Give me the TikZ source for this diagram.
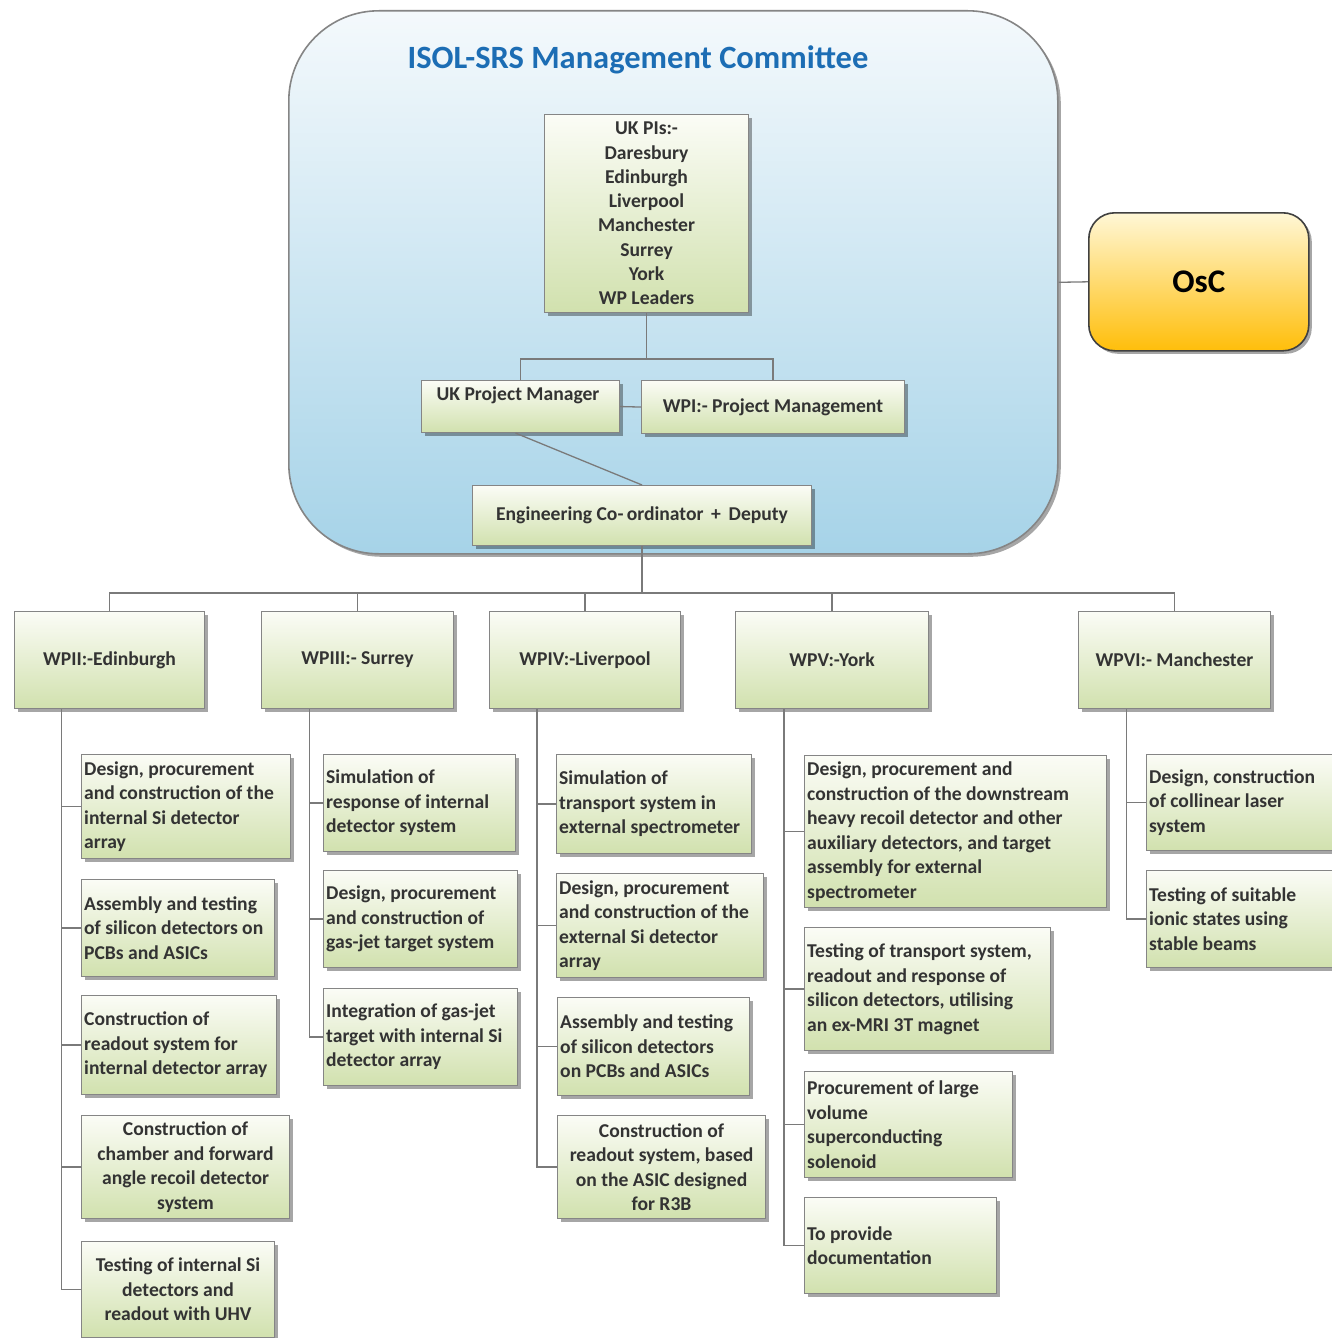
\documentclass[tikz,border=0pt]{standalone}
\usepackage{fontspec}
\setmainfont{Carlito}
\usetikzlibrary{shadows,calc}
\definecolor{gtop}{HTML}{FBFCF6}
\definecolor{gbot}{HTML}{D1E1AE}
\definecolor{btop}{HTML}{F4F9FC}
\definecolor{bbot}{HTML}{A6D3E8}
\definecolor{ytop}{HTML}{FFF7D6}
\definecolor{ybot}{HTML}{FFBE0A}
\definecolor{ttl}{HTML}{1C6DB4}
\definecolor{txt}{HTML}{333333}
\definecolor{lnc}{HTML}{7A7A7A}
\definecolor{bordc}{HTML}{858585}
\newcommand\leafbox[7]{%
  \node[leaf, minimum width={(#4)-(#2)}, minimum height={(#5)-(#3)}, anchor=north west] (#1) at (#2,#3) {};
  \ifx#7c\node[lt, align=center] at (#1.center) {#6};\else\node[lt, anchor=west] at (#1.west) {#6};\fi}
\begin{document}
\begin{tikzpicture}[x=1pt,y=-1pt,
  ln/.style={draw=lnc, line width=1.3pt},
  shad/.style={drop shadow={shadow xshift=3pt, shadow yshift=-3pt, fill=black, opacity=0.35}},
  leaf/.style={draw=bordc, line width=1.1pt, top color=gtop, bottom color=gbot, shad, inner sep=0pt},
  lt/.style={font=\fontsize{19.6}{24.5}\selectfont\bfseries, text=txt, align=left, inner xsep=3pt, inner ysep=0pt},
]
\useasboundingbox (0,0) rectangle (1332,1338);
\clip (0,0) rectangle (1332,1338);
\fill[white] (0,0) rectangle (1332,1338);

% management committee
\node[draw=bordc, line width=1.6pt, rounded corners=90pt, top color=btop, bottom color=bbot,
  minimum width=769pt, minimum height=543pt, anchor=north west, shad] (mc) at (288,10) {};
\node[font=\fontsize{32.5}{36}\selectfont\bfseries, text=ttl] (title) at (638,60) {ISOL-SRS Management Committee};

\node[leaf, lt, align=center, minimum width=204pt, minimum height=198pt, anchor=north west,
  font=\fontsize{19.6}{24.3}\selectfont\bfseries] (pis) at (544,114)
  {UK PIs:-\\Daresbury\\Edinburgh\\Liverpool\\Manchester\\Surrey\\York\\WP Leaders};
\node[leaf, minimum width=198pt, minimum height=52pt, anchor=north west] (pm) at (421,380) {};
\node[lt] (pmt) at (518,395) {UK Project Manager};
\node[leaf, lt, align=center, minimum width=263pt, minimum height=53pt, anchor=north west] (wp1) at (641,380) {WPI:- Project Management};
\node[leaf, lt, align=center, minimum width=339pt, minimum height=60pt, anchor=north west] (eng) at (472,485) {Engineering Co-\,ordinator \,+\, Deputy};

% OsC
\node[draw=black!75, line width=1.6pt, rounded corners=26pt, top color=ytop, bottom color=ybot,
  minimum width=220pt, minimum height=138pt, anchor=north west, shad,
  font=\fontsize{33}{38}\selectfont\bfseries, text=black] (osc) at (1088,212) {OsC};

% work packages
\node[leaf, lt, align=center, minimum width=190pt, minimum height=97pt, anchor=north west] (wp2) at (14,611) {WPII:-Edinburgh};
\node[leaf, lt, align=center, minimum width=192pt, minimum height=97pt, anchor=north west] (wp3) at (261,611) {WPIII:- Surrey};
\node[leaf, lt, align=center, minimum width=191pt, minimum height=97pt, anchor=north west] (wp4) at (489,611) {WPIV:-Liverpool};
\node[leaf, lt, align=center, minimum width=193pt, minimum height=97pt, anchor=north west] (wp5) at (735,611) {WPV:-York};
\node[leaf, lt, align=center, minimum width=192pt, minimum height=97pt, anchor=north west] (wp6) at (1078,611) {WPVI:- Manchester};

% WPII children
\leafbox{e1}{81}{754}{290}{858}{Design, procurement\\and construction of the\\internal Si detector\\array}{l}
\leafbox{e2}{81}{879}{274}{976}{Assembly and testing\\of silicon detectors on\\PCBs and ASICs}{l}
\leafbox{e3}{81}{995}{276}{1094}{Construction of\\readout system for\\internal detector array}{l}
\leafbox{e4}{81}{1115}{289}{1218}{Construction of\\chamber and forward\\angle recoil detector\\system}{c}
\leafbox{e5}{81}{1241}{274}{1337}{Testing of internal Si\\detectors and\\readout with UHV}{c}

% WPIII children
\leafbox{f1}{323}{754}{515}{851}{Simulation of\\response of internal\\detector system}{l}
\leafbox{f2}{323}{870}{517}{967}{Design, procurement\\and construction of\\gas-jet target system}{l}
\leafbox{f3}{323}{988}{517}{1085}{Integration of gas-jet\\target with internal Si\\detector array}{l}

% WPIV children
\leafbox{g1}{556}{754}{751}{853}{Simulation of\\transport system in\\external spectrometer}{l}
\leafbox{g2}{556}{873}{763}{977}{Design, procurement\\and construction of the\\external Si detector\\array}{l}
\leafbox{g3}{557}{997}{749}{1095}{Assembly and testing\\of silicon detectors\\on PCBs and ASICs}{l}
\leafbox{g4}{557}{1115}{765}{1218}{Construction of\\readout system, based\\on the ASIC designed\\for R3B}{c}

% WPV children
\leafbox{h1}{804}{755}{1106}{907}{Design, procurement and\\construction of the downstream\\heavy recoil detector and other\\auxiliary detectors, and target\\assembly for external\\spectrometer}{l}
\leafbox{h2}{804}{927}{1050}{1050}{Testing of transport system,\\readout and response of\\silicon detectors, utilising\\an ex-MRI 3T magnet}{l}
\leafbox{h3}{804}{1071}{1012}{1177}{Procurement of large\\volume\\superconducting\\solenoid}{l}
\leafbox{h4}{804}{1197}{996}{1293}{To provide\\documentation}{l}

% WPVI children
\leafbox{k1}{1146}{754}{1345}{850}{Design, construction\\of collinear laser\\system}{l}
\leafbox{k2}{1146}{870}{1345}{967}{Testing of suitable\\ionic states using\\stable beams}{l}

% connectors (top)
\draw[ln] (mc.east) -- (osc.west);
\coordinate (j) at ($(pis.south)+(0,46)$);
\draw[ln] (pis.south) -- (j);
\draw[ln] (pm.north) |- (j) -| (wp1.north);
\draw[ln] (pm.east) -- (wp1.west);
\draw[ln] ([xshift=-5pt]pm.south) -- (eng.north);

% bus
\coordinate (bus) at ($(eng.south)+(0,47)$);
\draw[ln] (eng.south) -- (bus);
\draw[ln] (wp2.north) |- (bus) -| (wp6.north);
\foreach \w in {wp3,wp4,wp5} \draw[ln] (\w.north) -- (\w.north |- bus);

% spines
\coordinate (s2) at ([xshift=-48pt]wp2.south);
\coordinate (s3) at ([xshift=-48pt]wp3.south);
\coordinate (s4) at ([xshift=-48pt]wp4.south);
\coordinate (s5) at ([xshift=-48pt]wp5.south);
\coordinate (s6) at ([xshift=-48pt]wp6.south);
\draw[ln] (s2) |- (e5.west);
\foreach \c in {e1,e2,e3,e4} \draw[ln] (\c.west) -- (\c.west -| s2);
\draw[ln] (s3) |- (f3.west);
\foreach \c in {f1,f2} \draw[ln] (\c.west) -- (\c.west -| s3);
\draw[ln] (s4) |- (g4.west);
\foreach \c in {g1,g2,g3} \draw[ln] (\c.west) -- (\c.west -| s4);
\draw[ln] (s5) |- (h4.west);
\foreach \c in {h1,h2,h3} \draw[ln] (\c.west) -- (\c.west -| s5);
\draw[ln] (s6) |- (k2.west);
\draw[ln] (k1.west) -- (k1.west -| s6);
\end{tikzpicture}
\end{document}
